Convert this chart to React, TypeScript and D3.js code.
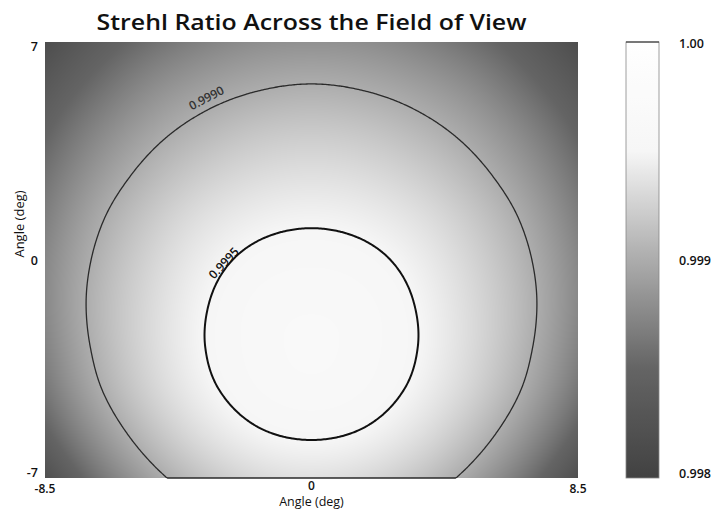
import React, { useMemo } from 'react';
import * as d3 from 'd3';

const xAngles = [-8.5, -6.8, -5.1, -3.4, -1.7, 0, 1.7, 3.4, 5.1, 6.8, 8.5];
const yAngles = [7, 5.6, 4.2, 2.8, 1.4, 0, -1.4, -2.8, -4.2, -5.6, -7];

// Strehl ratio, one row per yAngle (top to bottom), one column per xAngle
const strehl = [
  [0.99816, 0.9984, 0.99858, 0.99871, 0.99879, 0.99881, 0.99879, 0.99871, 0.99858, 0.9984, 0.99816],
  [0.99833, 0.99857, 0.99877, 0.9989, 0.99898, 0.99901, 0.99898, 0.9989, 0.99877, 0.99857, 0.99833],
  [0.99847, 0.99873, 0.99893, 0.99907, 0.99916, 0.99919, 0.99916, 0.99907, 0.99893, 0.99873, 0.99847],
  [0.99859, 0.99886, 0.99907, 0.99922, 0.99931, 0.99934, 0.99931, 0.99922, 0.99907, 0.99886, 0.99859],
  [0.99868, 0.99897, 0.99919, 0.99935, 0.99944, 0.99947, 0.99944, 0.99935, 0.99919, 0.99897, 0.99868],
  [0.99874, 0.99904, 0.99927, 0.99944, 0.99954, 0.99957, 0.99954, 0.99944, 0.99927, 0.99904, 0.99874],
  [0.99875, 0.99907, 0.99931, 0.99949, 0.9996, 0.99963, 0.9996, 0.99949, 0.99931, 0.99907, 0.99875],
  [0.99871, 0.99905, 0.99931, 0.9995, 0.99961, 0.99965, 0.99961, 0.9995, 0.99931, 0.99905, 0.99871],
  [0.99862, 0.99898, 0.99926, 0.99946, 0.99958, 0.99962, 0.99958, 0.99946, 0.99926, 0.99898, 0.99862],
  [0.99845, 0.99883, 0.99913, 0.99935, 0.99948, 0.99952, 0.99948, 0.99935, 0.99913, 0.99883, 0.99845],
  [0.99819, 0.99861, 0.99893, 0.99916, 0.9993, 0.99935, 0.9993, 0.99916, 0.99893, 0.99861, 0.99819],
];

const contourLevels = [0.999, 0.9995];
const contourLabels = ['0.9990', '0.9995'];
const xTicks = [-8.5, 0, 8.5];
const yTicks = [7, 0, -7];
const colorTicks = [1.0, 0.999, 0.998];
const colorTickLabels = ['1.00', '0.999', '0.998'];

const W = 722;
const H = 516;
const plot = { left: 45, right: 578, top: 42, bottom: 478 };
const bar = { left: 626, right: 659 };
const font = "'Open Sans', 'Noto Sans', sans-serif";

// where the contour labels sit (deg) and their tilt
const labelPos = [
  { x: -3.35, y: 5.2, rot: -28 },
  { x: -2.8, y: -0.1, rot: -47 },
];

const nr = strehl.length;
const nc = strehl[0].length;

// grid value with quadratic extrapolation past the edges
function at(j: number, i: number): number {
  if (j < 0) return 3 * at(0, i) - 3 * at(1, i) + at(2, i);
  if (j >= nr) return 3 * at(nr - 1, i) - 3 * at(nr - 2, i) + at(nr - 3, i);
  if (i < 0) return 3 * strehl[j][0] - 3 * strehl[j][1] + strehl[j][2];
  if (i >= nc) return 3 * strehl[j][nc - 1] - 3 * strehl[j][nc - 2] + strehl[j][nc - 3];
  return strehl[j][i];
}

const cr = (p0: number, p1: number, p2: number, p3: number, t: number) =>
  p1 + 0.5 * t * (p2 - p0 + t * (2 * p0 - 5 * p1 + 4 * p2 - p3 + t * (3 * (p1 - p2) + p3 - p0)));

const col = d3.scaleLinear().domain([xAngles[0], xAngles[nc - 1]]).range([0, nc - 1]).clamp(true);
const row = d3.scaleLinear().domain([yAngles[0], yAngles[nr - 1]]).range([0, nr - 1]).clamp(true);

function sample(ax: number, ay: number) {
  const fx = col(ax);
  const fy = row(ay);
  const i = Math.min(Math.floor(fx), nc - 2);
  const j = Math.min(Math.floor(fy), nr - 2);
  const tx = fx - i;
  const ty = fy - j;
  const r = [-1, 0, 1, 2].map((dj) =>
    cr(at(j + dj, i - 1), at(j + dj, i), at(j + dj, i + 1), at(j + dj, i + 2), tx)
  );
  return cr(r[0], r[1], r[2], r[3], ty);
}

export default function App() {
  const x = d3.scaleLinear().domain([-8.5, 8.5]).range([plot.left, plot.right]);
  const y = d3.scaleLinear().domain([-7, 7]).range([plot.bottom, plot.top]);
  const gray = d3
    .scaleLinear()
    .domain([0.998, 0.9985, 0.999, 0.9995, 1])
    .range([66, 100, 172, 246, 255])
    .clamp(true);
  const barY = d3.scaleLinear().domain([0.998, 1]).range([plot.bottom, plot.top]);

  const heatUrl = useMemo(() => {
    const pw = plot.right - plot.left;
    const ph = plot.bottom - plot.top;
    const canvas = document.createElement('canvas');
    canvas.width = pw;
    canvas.height = ph;
    const ctx = canvas.getContext('2d');
    if (!ctx) return '';
    const img = ctx.createImageData(pw, ph);
    for (let py = 0; py < ph; py++) {
      const ay = y.invert(plot.top + py + 0.5);
      for (let px = 0; px < pw; px++) {
        const ax = x.invert(plot.left + px + 0.5);
        const g = Math.round(gray(sample(ax, ay)));
        const k = (py * pw + px) * 4;
        img.data[k] = g;
        img.data[k + 1] = g;
        img.data[k + 2] = g;
        img.data[k + 3] = 255;
      }
    }
    ctx.putImageData(img, 0, 0);
    return canvas.toDataURL();
  }, []);

  const contourPaths = useMemo(() => {
    const nx = 341;
    const ny = 281;
    const values: number[] = new Array(nx * ny);
    for (let j = 0; j < ny; j++) {
      const ay = 7 - (j / (ny - 1)) * 14;
      for (let i = 0; i < nx; i++) {
        const ax = -8.5 + (i / (nx - 1)) * 17;
        values[j * nx + i] = sample(ax, ay);
      }
    }
    const proj = d3.geoTransform({
      point(px: number, py: number) {
        this.stream.point(x(-8.5 + (px / nx) * 17), y(7 - (py / ny) * 14));
      },
    });
    const path = d3.geoPath(proj);
    return d3.contours().size([nx, ny]).thresholds(contourLevels)(values).map((c) => path(c as any) || '');
  }, []);

  const gradStops = d3.range(0, 41).map((k) => {
    const v = 0.998 + (k / 40) * 0.002;
    const g = Math.round(gray(v));
    return { offset: `${(k / 40) * 100}%`, color: `rgb(${g},${g},${g})` };
  });

  return (
    <svg width={W} height={H} style={{ position: 'absolute', left: 0, top: 0, background: '#fff' }}>
      <defs>
        <linearGradient id="bar-grad" x1="0" y1="1" x2="0" y2="0">
          {gradStops.map((s, i) => (
            <stop key={i} offset={s.offset} stopColor={s.color} />
          ))}
        </linearGradient>
      </defs>

      <text
        x={(plot.left + plot.right) / 2}
        y={30}
        textAnchor="middle"
        fontFamily={font}
        fontSize={22}
        fontWeight={600}
        textLength={430}
        lengthAdjust="spacingAndGlyphs"
        fill="#111"
      >
        Strehl Ratio Across the Field of View
      </text>

      <image
        href={heatUrl}
        x={plot.left}
        y={plot.top}
        width={plot.right - plot.left}
        height={plot.bottom - plot.top}
        preserveAspectRatio="none"
      />

      {contourPaths.map((d, i) => (
        <path
          key={i}
          d={d}
          fill="none"
          stroke={i === 0 ? '#2a2a2a' : '#111'}
          strokeWidth={i === 0 ? 1.3 : 2}
        />
      ))}

      {contourLabels.map((t, i) => (
        <text
          key={t}
          transform={`translate(${x(labelPos[i].x)},${y(labelPos[i].y)}) rotate(${labelPos[i].rot})`}
          textAnchor="middle"
          dy="0.35em"
          fontFamily={font}
          fontSize={12}
          fontWeight={600}
          fill={i === 0 ? '#333' : '#111'}
        >
          {t}
        </text>
      ))}

      {/* y ticks */}
      {yTicks.map((t) => (
        <text
          key={t}
          x={plot.left - 7}
          y={t === 7 ? y(t) + 9 : t === -7 ? y(t) - 1 : y(t) + 5}
          textAnchor="end"
          fontFamily={font}
          fontSize={12.5}
          fontWeight={600}
          fill="#111"
        >
          {t}
        </text>
      ))}
      <text
        transform={`translate(24,${(plot.top + plot.bottom) / 2 - 36}) rotate(-90)`}
        textAnchor="middle"
        fontFamily={font}
        fontSize={13}
        fill="#111"
      >
        Angle (deg)
      </text>

      {/* x ticks */}
      {xTicks.map((t) => (
        <text
          key={t}
          x={x(t)}
          y={t === 0 ? plot.bottom + 12 : plot.bottom + 15}
          textAnchor="middle"
          fontFamily={font}
          fontSize={12}
          fontWeight={600}
          fill="#111"
        >
          {t}
        </text>
      ))}
      <text
        x={x(0)}
        y={plot.bottom + 28}
        textAnchor="middle"
        fontFamily={font}
        fontSize={12.5}
        fill="#111"
      >
        Angle (deg)
      </text>

      {/* colour bar */}
      <rect
        x={bar.left}
        y={barY(1)}
        width={bar.right - bar.left}
        height={barY(0.998) - barY(1)}
        fill="url(#bar-grad)"
        stroke="#888"
        strokeWidth={0.8}
      />
      <line x1={bar.left} x2={bar.right} y1={barY(1)} y2={barY(1)} stroke="#222" strokeWidth={1.2} />
      {colorTicks.map((t, i) => (
        <text
          key={t}
          x={bar.right + 20}
          y={barY(t) + (i === 0 ? 6 : i === 2 ? 0 : 5)}
          fontFamily={font}
          fontSize={12.5}
          fontWeight={600}
          fill="#111"
        >
          {colorTickLabels[i]}
        </text>
      ))}
    </svg>
  );
}
